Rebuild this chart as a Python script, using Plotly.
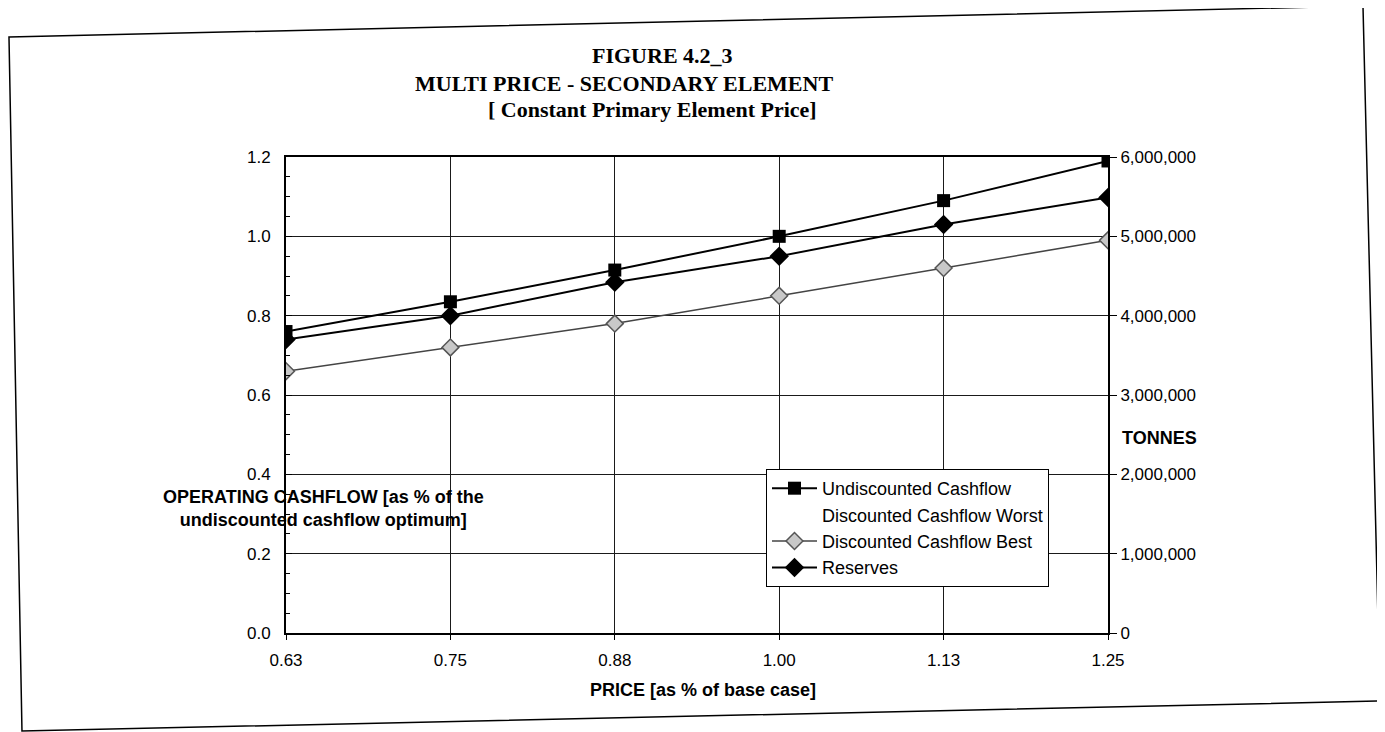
import plotly.graph_objects as go

# data
price_labels = ["0.63", "0.75", "0.88", "1.00", "1.13", "1.25"]
undiscounted_cashflow = [0.76, 0.835, 0.915, 1.0, 1.09, 1.19]
discounted_worst = [None, None, None, None, None, None]
discounted_best = [0.66, 0.72, 0.78, 0.85, 0.92, 0.99]
reserves_tonnes = [3700000, 4000000, 4420000, 4750000, 5150000, 5490000]

left_ticks = [0.0, 0.2, 0.4, 0.6, 0.8, 1.0, 1.2]
right_ticks = [0, 1000000, 2000000, 3000000, 4000000, 5000000, 6000000]

# the page body adds an 8px margin, so the figure is drawn 8px in from the corner
OFF = 8
W, H = 1385 - OFF, 732 - OFF
# plot area in screenshot pixels
PLOT_L, PLOT_R, PLOT_T, PLOT_B = 286, 1108, 157, 633

SANS = "Liberation Sans, Arial, sans-serif"
SERIF = "Liberation Serif, Times New Roman, serif"


def px_x(x):
    return (x - PLOT_L) / (PLOT_R - PLOT_L)


def px_y(y):
    return (PLOT_B - y) / (PLOT_B - PLOT_T)


fig = go.Figure()

fig.add_trace(go.Scatter(
    x=price_labels, y=undiscounted_cashflow, name="Undiscounted Cashflow",
    mode="lines+markers",
    line=dict(color="black", width=2),
    marker=dict(symbol="square", size=13, color="black"),
))
fig.add_trace(go.Scatter(
    x=price_labels, y=discounted_worst, name="Discounted Cashflow Worst",
    mode="lines", line=dict(color="rgba(0,0,0,0)", width=1),
))
fig.add_trace(go.Scatter(
    x=price_labels, y=discounted_best, name="Discounted Cashflow Best",
    mode="lines+markers",
    line=dict(color="#444444", width=1.5),
    marker=dict(symbol="diamond", size=13, color="#c8c8c8",
                line=dict(color="#555555", width=1.5)),
))
fig.add_trace(go.Scatter(
    x=price_labels, y=reserves_tonnes, name="Reserves", yaxis="y2",
    mode="lines+markers",
    line=dict(color="black", width=2),
    marker=dict(symbol="diamond", size=15, color="black"),
))

title_lines = [
    ("FIGURE 4.2_3", 662, 55),
    ("MULTI PRICE - SECONDARY ELEMENT", 624, 83),
    ("[ Constant Primary Element Price]", 652, 110),
]
annotations = []
for text, x, y in title_lines:
    annotations.append(dict(
        text=f"<b>{text}</b>", x=px_x(x), y=px_y(y), xref="paper", yref="paper",
        xanchor="center", yanchor="middle", showarrow=False,
        font=dict(family=SERIF, size=22, color="black"),
    ))

# axis titles sit on the chart like in the Excel original
annotations.append(dict(
    text="<b>OPERATING CASHFLOW [as % of the<br>undiscounted cashflow optimum]</b>",
    x=px_x(323), y=px_y(508), xref="paper", yref="paper",
    xanchor="center", yanchor="middle", showarrow=False, align="center",
    font=dict(family=SANS, size=18, color="black"),
))
annotations.append(dict(
    text="<b>TONNES</b>", x=px_x(1120), y=px_y(438), xref="paper", yref="paper",
    xanchor="left", yanchor="middle", showarrow=False,
    font=dict(family=SANS, size=18, color="black"),
))
annotations.append(dict(
    text="<b>PRICE [as % of base case]</b>", x=px_x(703), y=px_y(690),
    xref="paper", yref="paper", xanchor="center", yanchor="middle",
    showarrow=False, font=dict(family=SANS, size=18, color="black"),
))

# outer frame of the scanned page (slightly tilted in the scan)
frame = [(9, 37), (1363, 6), (1380, 701), (22, 731)]
path = "M " + " L ".join(f"{px_x(x):.4f},{px_y(y):.4f}" for x, y in frame) + " Z"

fig.update_layout(
    width=W, height=H,
    margin=dict(l=PLOT_L - OFF, r=W - (PLOT_R - OFF),
                t=PLOT_T - OFF, b=H - (PLOT_B - OFF)),
    paper_bgcolor="white", plot_bgcolor="white",
    font=dict(family=SANS, size=17, color="black"),
    showlegend=True,
    legend=dict(
        x=px_x(766), y=px_y(469), xanchor="left", yanchor="top",
        bgcolor="white", bordercolor="black", borderwidth=1,
        font=dict(family=SANS, size=18, color="black"),
        itemwidth=45, tracegroupgap=0,
    ),
    xaxis=dict(
        type="category", categoryorder="array", categoryarray=price_labels,
        range=[0, len(price_labels) - 1],
        showgrid=True, gridcolor="#1a1a1a", gridwidth=1,
        showline=True, linecolor="black", linewidth=2, mirror=True,
        ticks="outside", ticklen=5, tickcolor="black",
        ticklabelstandoff=6,
        zeroline=False,
    ),
    yaxis=dict(
        range=[0, 1.2], tickvals=left_ticks, tickformat=".1f",
        showgrid=True, gridcolor="#1a1a1a", gridwidth=1,
        showline=True, linecolor="black", linewidth=2,
        ticks="inside", ticklen=6, tickcolor="black",
        minor=dict(dtick=0.05, ticks="inside", ticklen=4, tickcolor="black",
                   showgrid=False),
        ticklabelstandoff=10,
        zeroline=False,
    ),
    yaxis2=dict(
        range=[0, 6000000], tickvals=right_ticks, tickformat=",d",
        overlaying="y", side="right",
        showgrid=False, showline=True, linecolor="black", linewidth=2,
        ticks="outside", ticklen=7, tickcolor="black",
        zeroline=False,
    ),
    annotations=annotations,
    shapes=[dict(type="path", path=path, xref="paper", yref="paper",
                 line=dict(color="black", width=1.5), layer="above")],
)

fig.write_html("out.html")
